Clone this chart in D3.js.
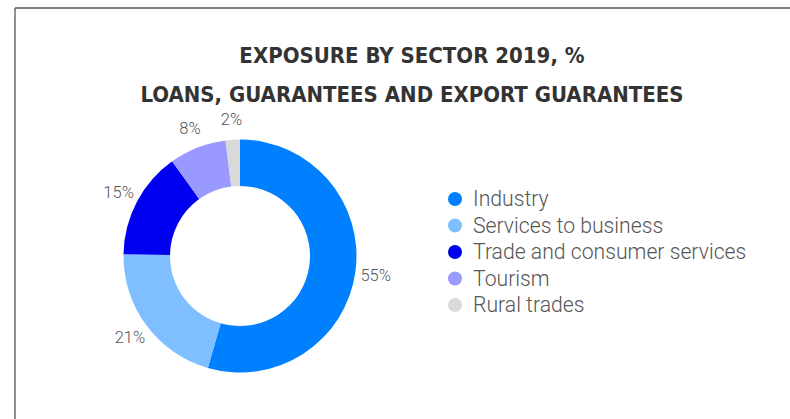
<!DOCTYPE html>
<html><head><meta charset="utf-8">
<script src="https://cdn.jsdelivr.net/npm/d3@7"></script>
<style>body{margin:0;background:#fff}svg{display:block}</style>
</head><body>
<svg id="c" width="790" height="419"></svg>
<script>
const categories = ["Industry","Services to business","Trade and consumer services","Tourism","Rural trades"];
const values = [55,21,15,8,2];
const labels = ["55%","21%","15%","8%","2%"];
const colors = ["#0080FF","#80BFFF","#0000F0","#9999FF","#D9D9D9"];
const titleLines = ["EXPOSURE BY SECTOR 2019, %","LOANS, GUARANTEES AND EXPORT GUARANTEES"];

const svg = d3.select("#c");
// frame
svg.append("line").attr("x1",15).attr("y1",8).attr("x2",790).attr("y2",8).attr("stroke","#555").attr("stroke-width",1.3);
svg.append("line").attr("x1",15).attr("y1",8).attr("x2",15).attr("y2",419).attr("stroke","#555").attr("stroke-width",1.3);

svg.selectAll("text.title").data(titleLines).join("text").attr("class","title")
  .attr("x",412).attr("y",(d,i)=>63+i*38.5).attr("text-anchor","middle")
  .attr("font-family","'DejaVu Sans Condensed','DejaVu Sans',sans-serif").attr("font-weight","bold")
  .attr("font-size",22).attr("fill","#333").text(d=>d);

const cx=240, cy=256, R=116.5, r=70, rl=137;
const pie = d3.pie().sort(null).value(d=>d)(values);
const arc = d3.arc().innerRadius(r).outerRadius(R);
const labArc = d3.arc().innerRadius(rl).outerRadius(rl);
const g = svg.append("g").attr("transform",`translate(${cx},${cy})`);
g.selectAll("path").data(pie).join("path").attr("d",arc).attr("fill",(d,i)=>colors[i]);
g.selectAll("text").data(pie).join("text")
  .attr("transform",d=>`translate(${labArc.centroid(d)})`)
  .attr("text-anchor","middle").attr("dy","0.35em")
  .attr("font-family","Roboto,sans-serif").attr("font-weight",300).attr("font-size",16.5).attr("fill","#555")
  .text((d,i)=>labels[i]);

const y = d3.scalePoint().domain(categories).range([199,305]);
const lg = svg.append("g");
lg.selectAll("circle").data(categories).join("circle").attr("cx",455).attr("cy",d=>y(d)).attr("r",7).attr("fill",(d,i)=>colors[i]);
lg.selectAll("text").data(categories).join("text").attr("x",473).attr("y",d=>y(d)).attr("dy","0.35em")
  .attr("font-family","Roboto,sans-serif").attr("font-weight",300).attr("font-size",21.2).attr("fill","#555").text(d=>d);
</script>
</body></html>
